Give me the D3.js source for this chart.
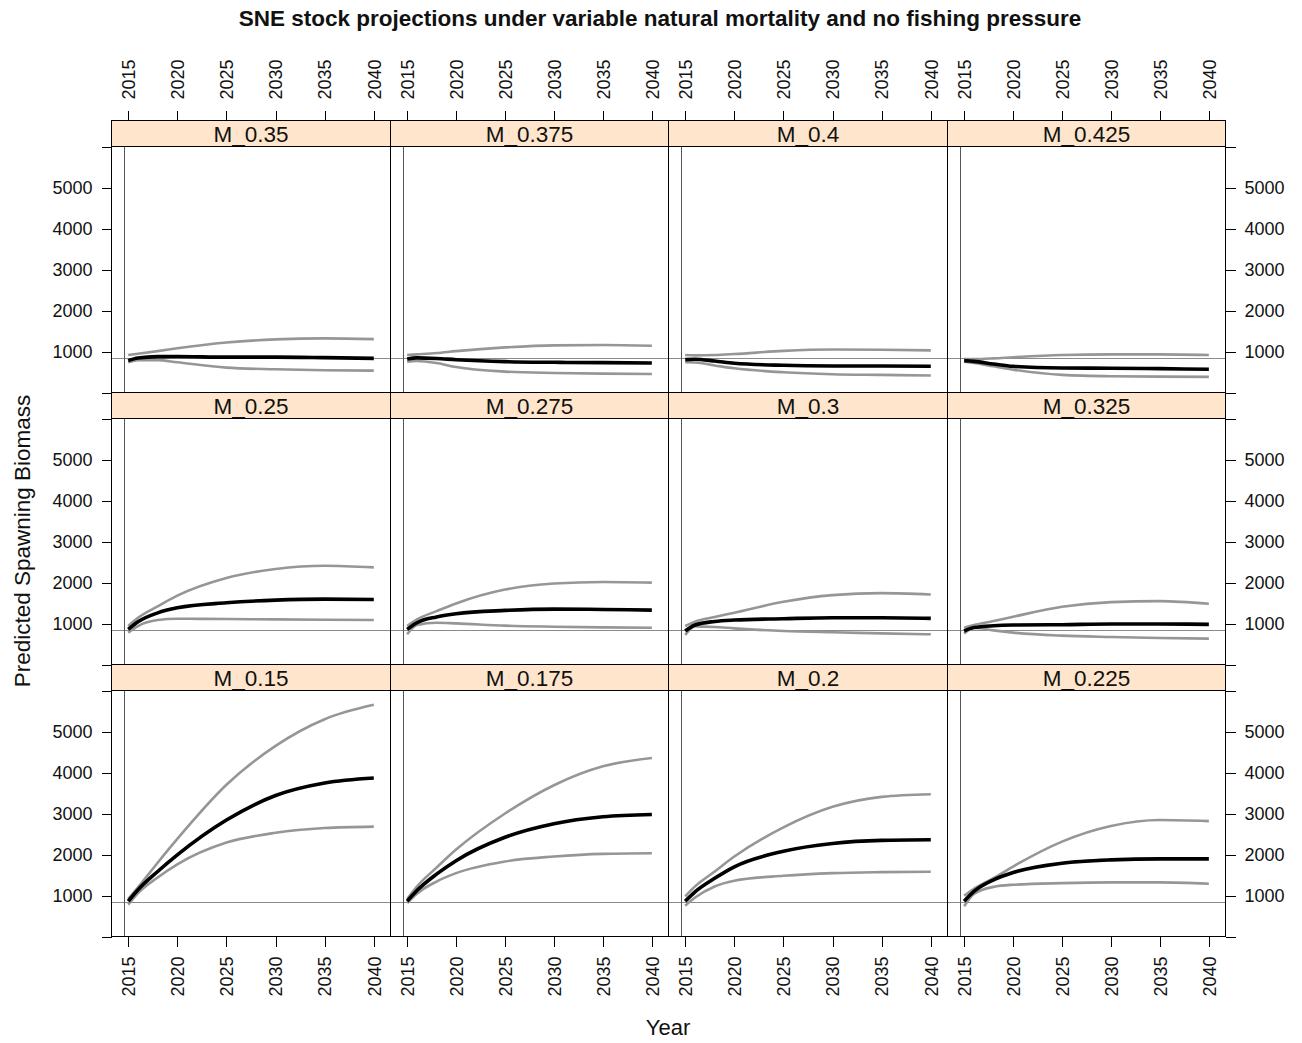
<!DOCTYPE html>
<html>
<head>
<meta charset="utf-8">
<script src="https://cdn.jsdelivr.net/npm/d3@7"></script>
<style>
  body { margin: 0; background: #fff; }
  svg { display: block; }
  text { font-family: "Liberation Sans", Arial, Helvetica, sans-serif; fill: #111; }
  .frame, .tick line, .ref { shape-rendering: crispEdges; }
</style>
</head>
<body>
<div id="chart"></div>
<script>
// projection years
const years = [2015, 2016, 2018, 2020, 2025, 2030, 2035, 2040];

// panels in lattice order, top row first
const panelLabels = [
  "M_0.35", "M_0.375", "M_0.4", "M_0.425",
  "M_0.25", "M_0.275", "M_0.3", "M_0.325",
  "M_0.15", "M_0.175", "M_0.2", "M_0.225"
];

// median predicted spawning biomass (black line)
const median = [
  [777, 841, 875, 878, 862, 862, 850, 833],
  [817, 845, 830, 800, 752, 736, 728, 720],
  [801, 812, 768, 712, 663, 647, 645, 639],
  [777, 760, 696, 639, 599, 591, 582, 566],
  [857, 1044, 1260, 1383, 1505, 1570, 1594, 1586],
  [857, 1019, 1160, 1238, 1319, 1351, 1343, 1327],
  [817, 963, 1050, 1084, 1116, 1140, 1140, 1124],
  [817, 900, 946, 963, 971, 987, 987, 979],
  [860, 1140, 1585, 1990, 2840, 3440, 3745, 3867],
  [860, 1120, 1520, 1850, 2420, 2750, 2920, 2977],
  [860, 1090, 1420, 1700, 2080, 2270, 2345, 2360],
  [860, 1100, 1383, 1561, 1788, 1869, 1893, 1893]
];

// upper interval (grey)
const upper = [
  [914, 945, 1010, 1080, 1220, 1295, 1320, 1302],
  [914, 930, 963, 1010, 1100, 1150, 1157, 1140],
  [914, 905, 914, 938, 1015, 1048, 1044, 1027],
  [817, 817, 833, 860, 914, 930, 930, 914],
  [940, 1140, 1420, 1680, 2110, 2330, 2410, 2370],
  [940, 1100, 1302, 1490, 1828, 1974, 2014, 1998],
  [940, 1044, 1157, 1262, 1529, 1691, 1740, 1707],
  [898, 963, 1060, 1165, 1408, 1521, 1545, 1480],
  [916, 1200, 1800, 2380, 3700, 4650, 5300, 5650],
  [916, 1220, 1680, 2120, 3000, 3690, 4150, 4352],
  [979, 1222, 1586, 1950, 2662, 3163, 3406, 3471],
  [995, 1165, 1424, 1707, 2314, 2694, 2840, 2815]
];

// lower interval (grey)
const lower = [
  [736, 790, 790, 736, 607, 566, 542, 534],
  [752, 770, 720, 620, 510, 477, 461, 453],
  [736, 730, 660, 591, 493, 445, 429, 413],
  [752, 720, 639, 558, 429, 396, 388, 380],
  [777, 938, 1084, 1116, 1108, 1100, 1092, 1084],
  [736, 963, 1019, 1003, 947, 922, 906, 898],
  [720, 930, 914, 882, 817, 785, 760, 736],
  [752, 900, 833, 777, 704, 671, 647, 631],
  [777, 1060, 1440, 1760, 2290, 2530, 2645, 2680],
  [817, 1045, 1340, 1545, 1830, 1950, 2015, 2030],
  [752, 950, 1220, 1360, 1480, 1545, 1569, 1578],
  [736, 1040, 1210, 1262, 1302, 1319, 1319, 1286]
];

const refBiomass = 820;   // horizontal reference line
const refYear = 2014.6;   // vertical reference line
const xDomain = [2013.3, 2041.7];
const yDomain = [0, 6000];
const xTicks = [2015, 2020, 2025, 2030, 2035, 2040];
const yTicks = [0, 1000, 2000, 3000, 4000, 5000, 6000];
const yLabelled = [1000, 2000, 3000, 4000, 5000];

const width = 1302, height = 1043;
const nCols = 4, nRows = 3;
const gridLeft = 111, gridTop = 120, gridRight = 1225;
const stripH = 26, panelH = 246;
const rowH = stripH + panelH;
const colEdges = d3.range(nCols + 1).map(c => Math.round(gridLeft + c * (gridRight - gridLeft) / nCols));

const svg = d3.select("#chart").append("svg")
  .attr("width", width)
  .attr("height", height);

const y = d3.scaleLinear().domain(yDomain).range([panelH, 0]);

panelLabels.forEach((label, i) => {
  const row = Math.floor(i / nCols), col = i % nCols;
  const panelW = colEdges[col + 1] - colEdges[col];
  const x = d3.scaleLinear().domain(xDomain).range([0, panelW]);
  const line = d3.line()
    .x((d, k) => x(years[k]))
    .y(d => y(d))
    .curve(d3.curveMonotoneX);

  const g = svg.append("g")
    .attr("transform", `translate(${colEdges[col] + 0.5},${gridTop + row * rowH + 0.5})`);

  // strip
  g.append("rect").attr("class", "frame")
    .attr("width", panelW).attr("height", stripH)
    .attr("fill", "#ffe5cc").attr("stroke", "#000").attr("stroke-width", 1);
  g.append("text")
    .attr("x", panelW / 2).attr("y", stripH / 2)
    .attr("dy", "0.36em")
    .attr("text-anchor", "middle")
    .style("font-size", "22.5px")
    .text(label);

  const p = g.append("g").attr("transform", `translate(0,${stripH})`);
  const clipId = "clip" + i;
  p.append("clipPath").attr("id", clipId)
    .append("rect").attr("width", panelW).attr("height", panelH);
  const plot = p.append("g").attr("clip-path", `url(#${clipId})`);

  plot.append("line").attr("class", "ref")
    .attr("x1", 0).attr("x2", panelW)
    .attr("y1", Math.round(y(refBiomass))).attr("y2", Math.round(y(refBiomass)))
    .attr("stroke", "#8a8a8a").attr("stroke-width", 1);
  plot.append("line").attr("class", "ref")
    .attr("x1", Math.round(x(refYear))).attr("x2", Math.round(x(refYear)))
    .attr("y1", 0).attr("y2", panelH)
    .attr("stroke", "#555").attr("stroke-width", 1);

  [upper[i], lower[i]].forEach(s => {
    plot.append("path")
      .attr("d", line(s))
      .attr("fill", "none")
      .attr("stroke", "#969696")
      .attr("stroke-width", 2.6);
  });
  plot.append("path")
    .attr("d", line(median[i]))
    .attr("fill", "none")
    .attr("stroke", "#000")
    .attr("stroke-width", 3.6);

  p.append("rect").attr("class", "frame")
    .attr("width", panelW).attr("height", panelH)
    .attr("fill", "none").attr("stroke", "#000").attr("stroke-width", 1);

  // axes on the outside of the grid
  const yearFmt = d3.format("d");
  if (row === 0) {
    const ax = g.append("g").call(d3.axisTop(x).tickValues(xTicks).tickFormat(yearFmt).tickSize(10).tickSizeOuter(0));
    ax.select(".domain").remove();
    ax.selectAll("text")
      .attr("transform", "rotate(-90)")
      .attr("x", 21).attr("y", 0).attr("dy", "0.35em")
      .style("text-anchor", "start");
  }
  if (row === nRows - 1) {
    const ax = p.append("g").attr("transform", `translate(0,${panelH})`)
      .call(d3.axisBottom(x).tickValues(xTicks).tickFormat(yearFmt).tickSize(10).tickSizeOuter(0));
    ax.select(".domain").remove();
    ax.selectAll("text")
      .attr("transform", "rotate(-90)")
      .attr("x", -20).attr("y", 0).attr("dy", "0.35em")
      .style("text-anchor", "end");
  }
  const yFmt = d => yLabelled.includes(d) ? d : "";
  if (col === 0) {
    const ax = p.append("g")
      .call(d3.axisLeft(y).tickValues(yTicks).tickFormat(yFmt).tickSize(10).tickPadding(9).tickSizeOuter(0));
    ax.select(".domain").remove();
  }
  if (col === nCols - 1) {
    const ax = p.append("g").attr("transform", `translate(${panelW},0)`)
      .call(d3.axisRight(y).tickValues(yTicks).tickFormat(yFmt).tickSize(10).tickPadding(9).tickSizeOuter(0));
    ax.select(".domain").remove();
  }
});

svg.selectAll(".tick text")
  .style("font-size", "18px")
  .style("font-family", "'Liberation Sans', Arial, sans-serif")
  .attr("fill", "#222");
svg.selectAll(".tick line").attr("stroke", "#000");

svg.append("text")
  .attr("x", 660).attr("y", 26)
  .attr("text-anchor", "middle")
  .style("font-size", "22.5px")
  .style("font-weight", "bold")
  .text("SNE stock projections under variable natural mortality and no fishing pressure");

svg.append("text")
  .attr("transform", `translate(30,${gridTop + 3 * rowH / 2 + 13}) rotate(-90)`)
  .attr("text-anchor", "middle")
  .style("font-size", "22.5px")
  .text("Predicted Spawning Biomass");

svg.append("text")
  .attr("x", 668).attr("y", 1035)
  .attr("text-anchor", "middle")
  .style("font-size", "22px")
  .text("Year");
</script>
</body>
</html>
